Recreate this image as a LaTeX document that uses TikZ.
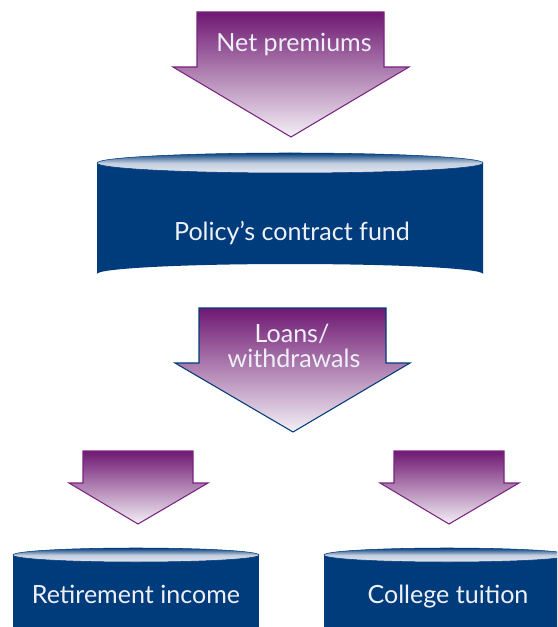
\documentclass[tikz,border=0pt]{standalone}
\usepackage{fontspec}
\setmainfont{Lato}
\definecolor{navy}{HTML}{003C7B}
\definecolor{plum}{HTML}{6F1872}
\definecolor{plumline}{HTML}{7A2480}
\definecolor{paleplum}{HTML}{F4F0F6}
\definecolor{pale}{HTML}{E4E7F0}
\definecolor{txt}{HTML}{EEF0F8}
\tikzset{
  flowarrow/.style={top color=plum, bottom color=paleplum, draw=plumline, line width=0.8pt, line join=miter},
  body/.style={fill=navy},
  lid/.style={top color=navy, bottom color=pale, middle color=pale!85!navy, draw=navy, line width=0.4pt},
  lbl/.style={text=txt, font=\fontsize{18.8}{20}\selectfont, anchor=base, inner sep=0pt},
}
\begin{document}
\begin{tikzpicture}[x=0.75pt,y=-0.75pt]
\useasboundingbox (0,0) rectangle (557,627);
\clip (0,0) rectangle (557,627);
% top arrow
\path[flowarrow] (197,12) -- (384,12) -- (384,67) -- (409,67) -- (291,137) -- (173,67) -- (197,67) -- cycle;
\node[lbl] (net) at (294,52) {Net premiums};
% main cylinder
\path[body] (97,163) -- (97,274) arc[start angle=180,end angle=360,x radius=193,y radius=10] -- (483,163) -- cycle;
\path[lid] (290,163) ellipse [x radius=193, y radius=10];
\node[lbl] (fund) at (292,240) {Policy’s contract fund};
% middle arrow
\path[flowarrow, draw=navy] (199,308) -- (386,308) -- (386,363) -- (410,363) -- (293,432) -- (175,363) -- (199,363) -- cycle;
\node[lbl] (loans) at (292,342) {Loans/};
\node[lbl] (withd) at (294,367) {withdrawals};
% bottom arrows
\path[flowarrow] (83,451) -- (193,451) -- (193,483) -- (208,483) -- (138,524) -- (69,483) -- (83,483) -- cycle;
\path[flowarrow] (394,451) -- (504,451) -- (504,483) -- (519,483) -- (449,524) -- (380,483) -- (394,483) -- cycle;
% bottom cylinders
\path[body] (13,555) rectangle (259,640);
\path[lid] (136,555) ellipse [x radius=123, y radius=7];
\node[lbl] (ret) at (136,603) {Retirement income};
\path[body] (324,555) rectangle (570,640);
\path[lid] (447,555) ellipse [x radius=123, y radius=7];
\node[lbl] (col) at (448,603) {College tuition};
\end{tikzpicture}
\end{document}
